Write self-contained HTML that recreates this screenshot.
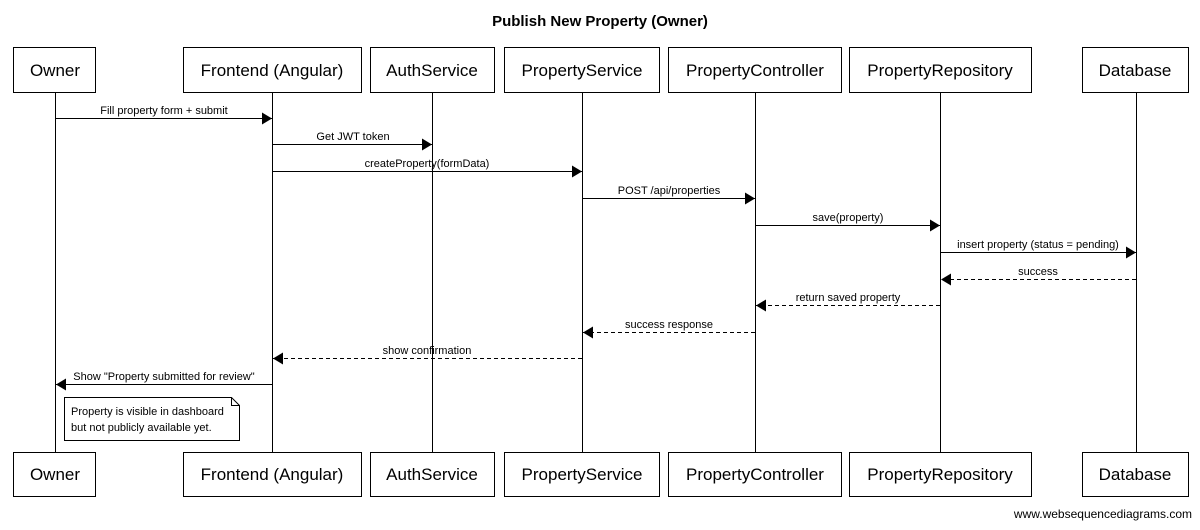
<!DOCTYPE html>
<html><head><meta charset="utf-8"><style>
html,body{margin:0;padding:0;background:#fff;}
</style></head><body>
<svg width="1200" height="525" xmlns="http://www.w3.org/2000/svg" font-family="Liberation Sans, Arial, sans-serif">
<defs>
<marker id="a" markerWidth="10" markerHeight="12" refX="10" refY="6" orient="auto" markerUnits="userSpaceOnUse"><path d="M0,0 L10,6 L0,12 z" fill="#000"/></marker>
</defs>
<text x="600" y="26" text-anchor="middle" font-weight="bold" font-size="15">Publish New Property (Owner)</text>
<g stroke="#000" stroke-width="1">
<line x1="55.5" y1="92" x2="55.5" y2="452"/>
<line x1="272.5" y1="92" x2="272.5" y2="452"/>
<line x1="432.5" y1="92" x2="432.5" y2="452"/>
<line x1="582.5" y1="92" x2="582.5" y2="452"/>
<line x1="755.5" y1="92" x2="755.5" y2="452"/>
<line x1="940.5" y1="92" x2="940.5" y2="452"/>
<line x1="1136.5" y1="92" x2="1136.5" y2="452"/>
</g>
<g fill="#fff" stroke="#000">
<rect x="13.5" y="47.5" width="82" height="45"/>
<rect x="183.5" y="47.5" width="178" height="45"/>
<rect x="370.5" y="47.5" width="124" height="45"/>
<rect x="504.5" y="47.5" width="155" height="45"/>
<rect x="668.5" y="47.5" width="173" height="45"/>
<rect x="849.5" y="47.5" width="182" height="45"/>
<rect x="1082.5" y="47.5" width="106" height="45"/>
<rect x="13.5" y="452.5" width="82" height="44"/>
<rect x="183.5" y="452.5" width="178" height="44"/>
<rect x="370.5" y="452.5" width="124" height="44"/>
<rect x="504.5" y="452.5" width="155" height="44"/>
<rect x="668.5" y="452.5" width="173" height="44"/>
<rect x="849.5" y="452.5" width="182" height="44"/>
<rect x="1082.5" y="452.5" width="106" height="44"/>
</g>
<g font-size="17" text-anchor="middle">
<text x="55" y="76">Owner</text><text x="272" y="76">Frontend (Angular)</text><text x="432" y="76">AuthService</text><text x="582" y="76">PropertyService</text><text x="755" y="76">PropertyController</text><text x="940" y="76">PropertyRepository</text><text x="1135" y="76">Database</text>
<text x="55" y="480">Owner</text><text x="272" y="480">Frontend (Angular)</text><text x="432" y="480">AuthService</text><text x="582" y="480">PropertyService</text><text x="755" y="480">PropertyController</text><text x="940" y="480">PropertyRepository</text><text x="1135" y="480">Database</text>
</g>
<g stroke="#000" stroke-width="1">
<line x1="56" y1="118.5" x2="272" y2="118.5" marker-end="url(#a)"/>
<line x1="273" y1="144.5" x2="432" y2="144.5" marker-end="url(#a)"/>
<line x1="273" y1="171.5" x2="582" y2="171.5" marker-end="url(#a)"/>
<line x1="583" y1="198.5" x2="755" y2="198.5" marker-end="url(#a)"/>
<line x1="756" y1="225.5" x2="940" y2="225.5" marker-end="url(#a)"/>
<line x1="941" y1="252.5" x2="1136" y2="252.5" marker-end="url(#a)"/>
<line x1="1136" y1="279.5" x2="941" y2="279.5" stroke-dasharray="4,3" marker-end="url(#a)"/>
<line x1="940" y1="305.5" x2="756" y2="305.5" stroke-dasharray="4,3" marker-end="url(#a)"/>
<line x1="755" y1="332.5" x2="583" y2="332.5" stroke-dasharray="4,3" marker-end="url(#a)"/>
<line x1="582" y1="358.5" x2="273" y2="358.5" stroke-dasharray="4,3" marker-end="url(#a)"/>
<line x1="272" y1="384.5" x2="56" y2="384.5" marker-end="url(#a)"/>
</g>
<g font-size="11" text-anchor="middle">
<text x="164" y="114">Fill property form + submit</text>
<text x="353" y="140">Get JWT token</text>
<text x="427" y="167">createProperty(formData)</text>
<text x="669" y="194">POST /api/properties</text>
<text x="848" y="221">save(property)</text>
<text x="1038" y="248">insert property (status = pending)</text>
<text x="1038" y="275">success</text>
<text x="848" y="301">return saved property</text>
<text x="669" y="328">success response</text>
<text x="427" y="354">show confirmation</text>
<text x="164" y="380">Show "Property submitted for review"</text>
</g>
<path d="M64.5,397.5 H231.5 L239.5,405.5 V440.5 H64.5 Z M231.5,397.5 V405.5 H239.5" fill="#fff" stroke="#000"/>
<g font-size="11"><text x="71" y="415">Property is visible in dashboard</text><text x="71" y="431">but not publicly available yet.</text></g>
<text x="1192" y="518" text-anchor="end" font-size="12">www.websequencediagrams.com</text>
</svg>
</body></html>
